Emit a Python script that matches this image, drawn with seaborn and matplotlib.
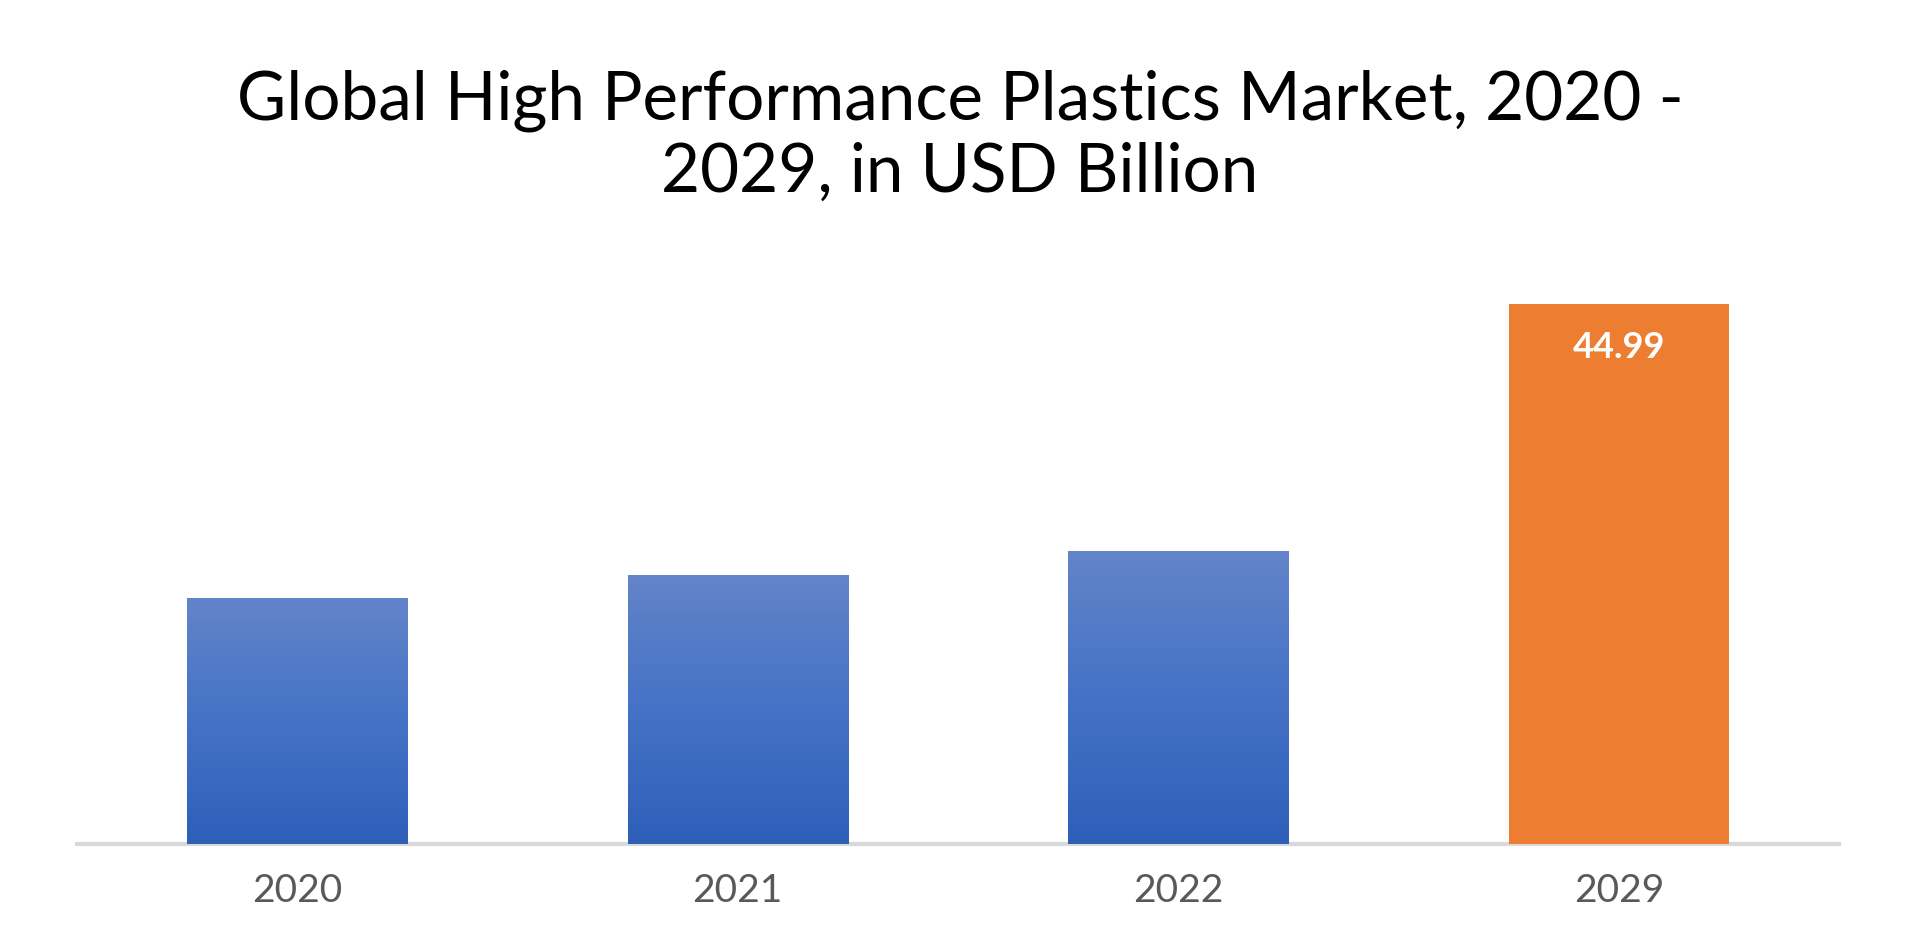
import numpy as np
import pandas as pd
import matplotlib
matplotlib.use("Agg")
import matplotlib.pyplot as plt
import matplotlib.patheffects as pe
from matplotlib.colors import LinearSegmentedColormap
import seaborn as sns

# ---- data ----
years = ["2020", "2021", "2022", "2029"]
values = [20.5, 22.4, 24.4, 44.99]
label_year = "2029"
label_text = "44.99"
title = "Global High Performance Plastics Market, 2020 -\n2029, in USD Billion"

sns.set_theme(style="white")
plt.rcParams["font.family"] = ["Lato", "DejaVu Sans"]

fig = plt.figure(figsize=(19.2, 9.43), dpi=100)
ax = fig.add_axes([77 / 1920, 99 / 943, (1839 - 77) / 1920, 600 / 943])

df = pd.DataFrame({"year": years, "value": values})
palette = {y: ("#ED7D31" if y == label_year else "#4472C4") for y in years}
sns.barplot(data=df, x="year", y="value", hue="year", palette=palette,
            width=0.5, legend=False, ax=ax, saturation=1, edgecolor="none")

# gradient fill + soft shadow on bars
cmap = LinearSegmentedColormap.from_list("g", ["#2E5FB9", "#4472C6", "#6384C9"])
grad = np.linspace(0, 1, 256).reshape(-1, 1)
for p, y in zip(ax.patches, years):
    p.set_path_effects([pe.SimplePatchShadow(offset=(0, -1), shadow_rgbFace="#9a9a9a", alpha=0.35),
                        pe.Normal()])
    if y != label_year:
        x0, y0 = p.get_x(), p.get_y()
        w, h = p.get_width(), p.get_height()
        im = ax.imshow(grad, cmap=cmap, aspect="auto", origin="lower",
                       extent=[x0, x0 + w, y0, y0 + h], zorder=p.get_zorder() + 0.1)
        im.set_clip_path(p)
ax.set_xlim(-0.5, 3.5)
ax.set_ylim(0, 50)

# value label
idx = years.index(label_year)
ax.annotate(label_text, xy=(idx, values[idx]), xytext=(0, -31), textcoords="offset points",
            ha="center", va="center", color="white", fontsize=26, fontweight="bold",
            annotation_clip=False)

ax.set_xlabel("")
ax.set_ylabel("")
ax.set_yticks([])
ax.tick_params(axis="x", length=0, pad=21, labelsize=28, labelcolor="#595959")
for s in ["top", "right", "left"]:
    ax.spines[s].set_visible(False)
ax.spines["bottom"].set_color("#D9D9D9")
ax.spines["bottom"].set_linewidth(3)
ax.spines["bottom"].set_zorder(0)

fig.text(0.5, 1 - 137 / 943, title, ha="center", va="center",
         fontsize=48.5, color="black", linespacing=1.2)

fig.savefig("out.png", dpi=100, facecolor="white")
